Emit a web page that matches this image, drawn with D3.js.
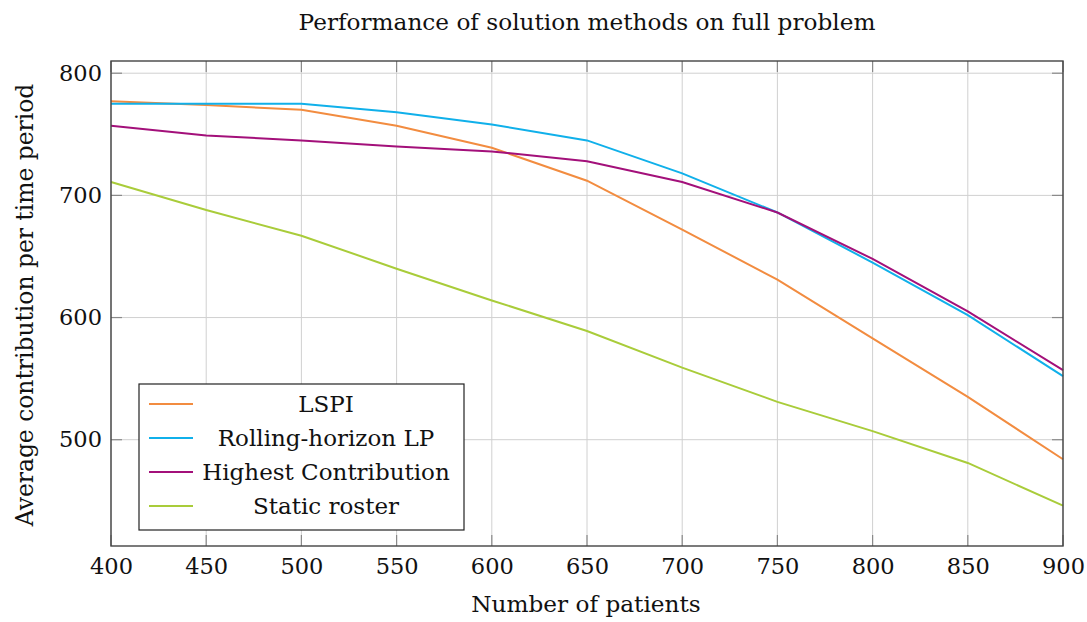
<!DOCTYPE html>
<html>
<head>
<meta charset="utf-8">
<script src="https://cdn.jsdelivr.net/npm/d3@7"></script>
<style>
  html, body { margin: 0; padding: 0; background: #fff; }
  svg { display: block; }
  text { font-family: "DejaVu Serif", "Liberation Serif", serif; fill: #111; }
</style>
</head>
<body>
<svg id="chart" width="1087" height="622"></svg>
<script>
// Number of patients on the x axis
const patients = [400, 450, 500, 550, 600, 650, 700, 750, 800, 850, 900];

// Average contribution per time period for each solution method
const lspi        = [777, 774, 770, 757, 739, 712, 672, 631, 583, 535, 484];
const rollingLP   = [775, 775, 775, 768, 758, 745, 718, 686, 645, 602, 552];
const highest     = [757, 749, 745, 740, 736, 728, 711, 686, 648, 605, 557];
const staticRoster = [711, 688, 667, 640, 614, 589, 559, 531, 507, 481, 446];

const seriesNames  = ["LSPI", "Rolling-horizon LP", "Highest Contribution", "Static roster"];
const seriesValues = [lspi, rollingLP, highest, staticRoster];
const seriesColors = ["#f28c40", "#10b0ea", "#a3107a", "#a9cc3a"];

const xTicks = [400, 450, 500, 550, 600, 650, 700, 750, 800, 850, 900];
const yTicks = [500, 600, 700, 800];

const svg = d3.select("#chart");
const margin = { left: 111, right: 24, top: 61, bottom: 76 };
const W = 1087, H = 622;
const iw = W - margin.left - margin.right;
const ih = H - margin.top - margin.bottom;

const x = d3.scaleLinear().domain([400, 900]).range([0, iw]);
const y = d3.scaleLinear().domain([413, 810]).range([ih, 0]);

const g = svg.append("g").attr("transform", `translate(${margin.left},${margin.top})`);

// grid
g.append("g").selectAll("line").data(xTicks).join("line")
  .attr("x1", d => x(d)).attr("x2", d => x(d))
  .attr("y1", 0).attr("y2", ih)
  .attr("stroke", "#d0d0d0").attr("stroke-width", 1);
g.append("g").selectAll("line").data(yTicks).join("line")
  .attr("y1", d => y(d)).attr("y2", d => y(d))
  .attr("x1", 0).attr("x2", iw)
  .attr("stroke", "#d0d0d0").attr("stroke-width", 1);

// inward tick marks on all four sides
const tickLen = 11;
const tickStyle = sel => sel.attr("stroke", "#8a8a8a").attr("stroke-width", 1.2);
g.append("g").selectAll("line").data(xTicks).join("line")
  .attr("x1", d => x(d)).attr("x2", d => x(d)).attr("y1", ih).attr("y2", ih - tickLen).call(tickStyle);
g.append("g").selectAll("line").data(xTicks).join("line")
  .attr("x1", d => x(d)).attr("x2", d => x(d)).attr("y1", 0).attr("y2", tickLen).call(tickStyle);
g.append("g").selectAll("line").data(yTicks).join("line")
  .attr("y1", d => y(d)).attr("y2", d => y(d)).attr("x1", 0).attr("x2", tickLen).call(tickStyle);
g.append("g").selectAll("line").data(yTicks).join("line")
  .attr("y1", d => y(d)).attr("y2", d => y(d)).attr("x1", iw).attr("x2", iw - tickLen).call(tickStyle);

// axes (labels only; the frame is drawn separately)
const xAxis = d3.axisBottom(x).tickValues(xTicks).tickSize(0).tickPadding(12).tickFormat(d3.format("d"));
const yAxis = d3.axisLeft(y).tickValues(yTicks).tickSize(0).tickPadding(9).tickFormat(d3.format("d"));
const gx = g.append("g").attr("transform", `translate(0,${ih})`).call(xAxis);
const gy = g.append("g").call(yAxis);
[gx, gy].forEach(a => {
  a.select(".domain").remove();
  a.selectAll("text").attr("font-family", "DejaVu Serif").attr("font-size", 22.5).attr("fill", "#111");
});

// lines
const line = d3.line().x((d, i) => x(patients[i])).y(d => y(d));
g.append("g").selectAll("path").data(seriesValues).join("path")
  .attr("d", line)
  .attr("fill", "none")
  .attr("stroke", (d, i) => seriesColors[i])
  .attr("stroke-width", 2);

// frame
g.append("rect").attr("x", 0).attr("y", 0).attr("width", iw).attr("height", ih)
  .attr("fill", "none").attr("stroke", "#444").attr("stroke-width", 1.4);

// legend
const lg = svg.append("g").attr("transform", "translate(139,384)");
lg.append("rect").attr("width", 325).attr("height", 146)
  .attr("fill", "#fff").attr("stroke", "#222").attr("stroke-width", 1.2);
const rowY = [20, 54, 88, 122];
seriesNames.forEach((name, i) => {
  lg.append("line").attr("x1", 10).attr("x2", 54).attr("y1", rowY[i]).attr("y2", rowY[i])
    .attr("stroke", seriesColors[i]).attr("stroke-width", 2);
  lg.append("text").attr("x", 187).attr("y", rowY[i]).attr("dy", "0.36em")
    .attr("text-anchor", "middle").attr("font-size", 23).text(name);
});

// title and axis titles
svg.append("text").attr("x", 587).attr("y", 30).attr("text-anchor", "middle")
  .attr("font-size", 23.2).text("Performance of solution methods on full problem");
svg.append("text").attr("x", 586).attr("y", 612).attr("text-anchor", "middle")
  .attr("font-size", 23.2).text("Number of patients");
svg.append("text").attr("transform", "translate(33,305) rotate(-90)").attr("text-anchor", "middle")
  .attr("font-size", 23.4).text("Average contribution per time period");
</script>
</body>
</html>
